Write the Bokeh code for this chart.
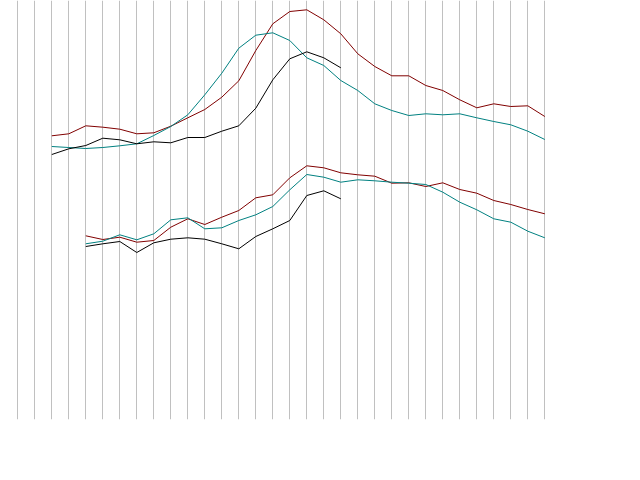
from bokeh.plotting import figure
from bokeh.models import Range1d, Grid, FixedTicker
from bokeh.embed import file_html
from bokeh.resources import INLINE

# x positions (periods) 0..31
periods = list(range(32))

# Upper group
upper_red_x = list(range(2, 32))
upper_red = [283.7, 285.7, 293.7, 292.3, 290.3, 285.7, 286.7, 293.3, 301.7, 310,
             322.3, 338.7, 369, 395.7, 408, 409.7, 399.7, 385.7, 365.7, 353,
             343.7, 343.7, 334, 329, 319.7, 311.7, 315.7, 313, 313.7, 303]
upper_teal_x = list(range(2, 32))
upper_teal = [273, 272, 271, 272, 273.7, 275.7, 284, 293, 304.7, 324.7,
              346.3, 371.3, 384.3, 386.7, 379, 361.7, 354, 339, 329, 315.7,
              309, 304, 305.7, 304.7, 305.7, 301.7, 298, 294.7, 288.3, 280]
upper_black_x = list(range(2, 20))
upper_black = [265, 270.7, 274, 281.3, 279.7, 275.7, 277.7, 276.7, 282, 282,
               288.3, 293.7, 311.3, 339.7, 360.7, 367.7, 361.7, 351.7]

# Lower group
lower_red_x = list(range(4, 32))
lower_red = [183.7, 180, 182.3, 177.3, 179, 192.3, 200.7, 195, 202.3, 209,
             221.7, 224.7, 241.7, 253.7, 251.7, 246.7, 244.7, 243.3, 236.3, 236.7,
             233, 236.7, 230, 226.3, 219, 215, 210, 205.7]
lower_teal_x = list(range(4, 32))
lower_teal = [175.7, 178.3, 184.7, 179.7, 185.7, 199.7, 201.7, 190.7, 191.7, 199,
              204.7, 213, 229.7, 245, 242.3, 237.3, 239.7, 238.7, 237.3, 236.3,
              235, 227.3, 217.3, 209.7, 200.7, 197.3, 188.3, 181.7]
lower_black_x = list(range(4, 20))
lower_black = [173, 175.7, 178, 167, 176.7, 180.3, 181.7, 180.3, 175.7, 170.7,
               183, 190.7, 199, 224, 228.7, 220.7]

RED = "#800000"
TEAL = "#008080"
BLACK = "#000000"

W, H = 624, 464
FRAME_H = 419
spacing = 17.0
x0 = -17.3 / spacing

p = figure(width=W, height=H, output_backend="svg", toolbar_location=None,
           x_axis_location=None, y_axis_location=None,
           x_range=Range1d(x0, x0 + W / spacing), y_range=Range1d(0, FRAME_H),
           min_border_left=0, min_border_right=0, min_border_top=0,
           min_border_bottom=H - FRAME_H)
p.outline_line_color = None
p.background_fill_color = "white"
p.border_fill_color = "white"
p.xgrid.visible = False
p.ygrid.visible = False

p.add_layout(Grid(dimension=0, ticker=FixedTicker(ticks=periods),
                  grid_line_color="#c0c0c0", grid_line_width=1))

for xs, ys, c in [(upper_red_x, upper_red, RED), (upper_teal_x, upper_teal, TEAL),
                  (upper_black_x, upper_black, BLACK),
                  (lower_red_x, lower_red, RED), (lower_teal_x, lower_teal, TEAL),
                  (lower_black_x, lower_black, BLACK)]:
    p.line(xs, ys, line_color=c, line_width=1)

open("out.html", "w").write(file_html(p, INLINE))
